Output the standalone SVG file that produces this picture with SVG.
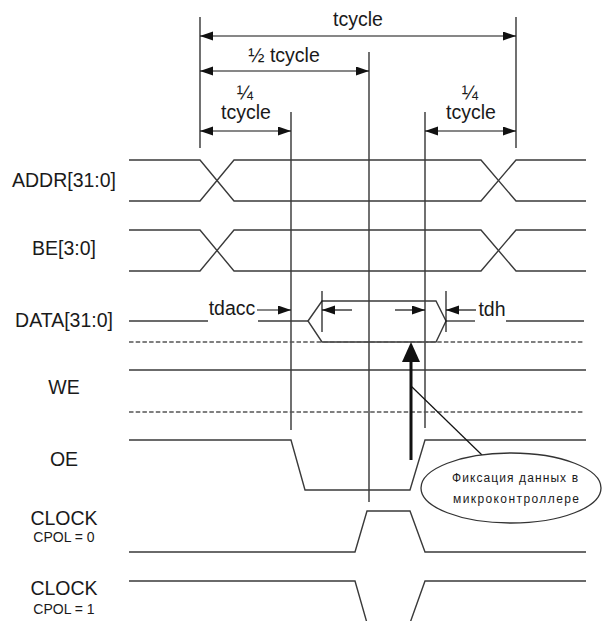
<svg xmlns="http://www.w3.org/2000/svg" width="613" height="621" viewBox="0 0 613 621">
<defs>
<marker id="ah" markerUnits="userSpaceOnUse" markerWidth="14" markerHeight="10" refX="13" refY="4.5" orient="auto-start-reverse"><path d="M0,0 L13,4.5 L0,9 Z" fill="#111"/></marker>
</defs>
<style>
.t{font-family:"Liberation Sans",Arial,sans-serif;font-size:19.5px;fill:#1a1a1a;text-anchor:middle}
.s{font-size:14px}
.e{font-size:12px}
.sig{fill:none;stroke:#3a3a3a;stroke-width:1.4}
.dash{fill:none;stroke:#555;stroke-width:1.4;stroke-dasharray:4.5 2.2}
.v{fill:none;stroke:#111;stroke-width:1.2}
.dim{fill:none;stroke:#111;stroke-width:1.2;marker-start:url(#ah);marker-end:url(#ah)}
.one{fill:none;stroke:#111;stroke-width:1.2;marker-end:url(#ah)}
</style>
<rect width="613" height="621" fill="#fff"/>

<g id="labels">
<text class="t" x="64" y="187">ADDR[31:0]</text>
<text class="t" x="64" y="255">BE[3:0]</text>
<text class="t" x="64" y="327">DATA[31:0]</text>
<text class="t" x="64" y="394">WE</text>
<text class="t" x="64" y="466">OE</text>
<text class="t" x="64" y="525">CLOCK</text>
<text class="t s" x="64" y="542">CPOL = 0</text>
<text class="t" x="64" y="595">CLOCK</text>
<text class="t s" x="64" y="614">CPOL = 1</text>
</g>

<g id="timing-marks">
<line class="v" x1="200" y1="17" x2="200" y2="148"/>
<line class="v" x1="516" y1="17" x2="516" y2="148"/>
<line class="v" x1="369" y1="52" x2="369" y2="502"/>
<line class="v" x1="291" y1="112" x2="291" y2="430"/>
<line class="v" x1="425" y1="112" x2="425" y2="428"/>
<line class="dim" x1="200" y1="36" x2="516" y2="36"/>
<line class="dim" x1="200" y1="71" x2="369" y2="71"/>
<line class="dim" x1="200" y1="131" x2="291" y2="131"/>
<line class="dim" x1="425" y1="131" x2="516" y2="131"/>
<text class="t" x="358" y="26">tcycle</text>
<text class="t" x="284" y="62">½ tcycle</text>
<text class="t" x="245" y="99">¼</text>
<text class="t" x="246" y="119">tcycle</text>
<text class="t" x="470" y="99">¼</text>
<text class="t" x="471" y="119">tcycle</text>
</g>

<g id="addr">
<path class="sig" d="M129,160 H200 L234,201 H481 L516,160 H586"/>
<path class="sig" d="M129,201 H200 L234,160 H481 L516,201 H586"/>
</g>
<g id="be">
<path class="sig" d="M129,230 H200 L234,271 H481 L516,230 H586"/>
<path class="sig" d="M129,271 H200 L234,230 H481 L516,271 H586"/>
</g>

<g id="data">
<line class="sig" x1="129" y1="321" x2="208" y2="321"/>
<line class="sig" x1="258" y1="321" x2="308" y2="321"/>
<path class="sig" d="M308,321 L322,301 H436 L446,321 L436,342 H322 Z"/>
<line class="sig" x1="446" y1="321" x2="475" y2="321"/>
<line class="sig" x1="506" y1="321" x2="584" y2="321"/>
<line class="dash" x1="129" y1="342" x2="584" y2="342"/>
<line class="v" x1="322" y1="291" x2="322" y2="332"/>
<line class="v" x1="446" y1="291" x2="446" y2="332"/>
<line class="one" x1="257" y1="310" x2="291" y2="310"/>
<line class="one" x1="352" y1="310" x2="322" y2="310"/>
<line class="one" x1="395" y1="310" x2="425" y2="310"/>
<line class="one" x1="476" y1="310" x2="446" y2="310"/>
<text class="t" x="232" y="315">tdacc</text>
<text class="t" x="492" y="316">tdh</text>
</g>

<g id="we">
<line class="sig" x1="129" y1="370" x2="586" y2="370"/>
<line class="dash" x1="129" y1="412" x2="584" y2="412"/>
</g>

<g id="oe">
<path class="sig" d="M129,440 H291 L305,490 H410 L425,440 H586"/>
</g>

<g id="clock0">
<path class="sig" d="M129,552 H355 L367,511 H410 L425,552 H586"/>
</g>
<g id="clock1">
<path class="sig" d="M129,581 H355 L367,623 M410,623 L425,581 H586"/>
</g>

<g id="latch">
<line x1="411" y1="460" x2="411" y2="358" stroke="#111" stroke-width="3"/>
<polygon points="411,342 402,362 420,362" fill="#111"/>
<line class="v" x1="411" y1="386" x2="483" y2="456"/>
</g>

<g id="note">
<ellipse cx="511" cy="488" rx="90" ry="35" fill="#fff" stroke="#333" stroke-width="1.3"/>
<text class="t e" x="515" y="482" textLength="126" lengthAdjust="spacing">Фиксация данных в</text>
<text class="t e" x="516" y="503" textLength="126" lengthAdjust="spacing">микроконтроллере</text>
</g>
</svg>
